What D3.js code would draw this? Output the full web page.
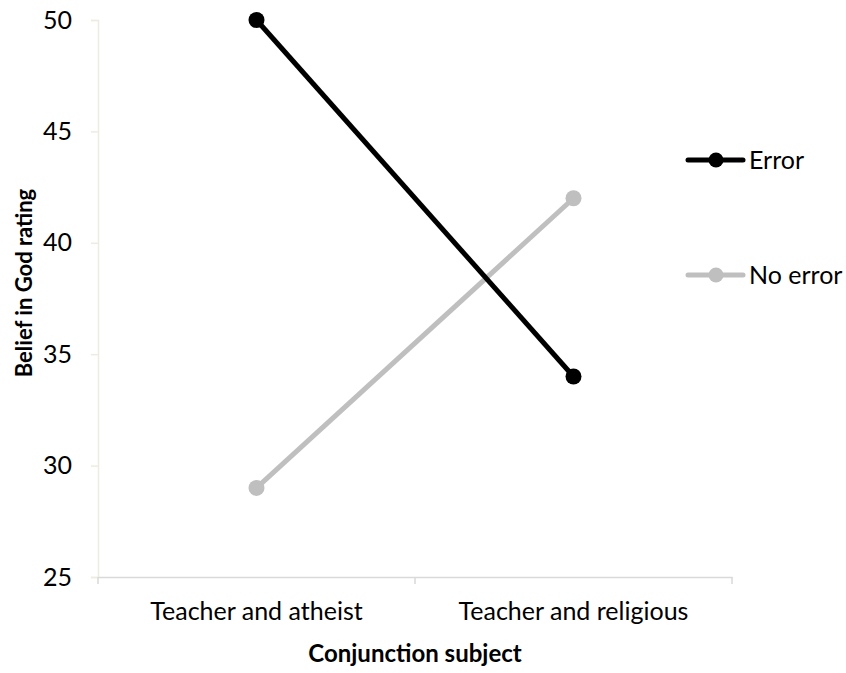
<!DOCTYPE html>
<html>
<head>
<meta charset="utf-8">
<script src="https://cdn.jsdelivr.net/npm/d3@7"></script>
<style>
  body { margin: 0; background: #fff; }
  svg text { font-family: Lato, "Open Sans", sans-serif; fill: #000; }
</style>
</head>
<body>
<svg id="chart"></svg>
<script>
// belief in god rating by conjunction subject, error vs no error

const categories = ["Teacher and atheist", "Teacher and religious"];
const seriesNames = ["Error", "No error"];
const errorValues = [50, 34];
const noErrorValues = [29, 42];
const yTicks = [25, 30, 35, 40, 45, 50];

const w = 846;
const h = 673;
const margin = {top: 20, left: 98, bottom: 96, right: 114};
const fontSize = 25;

const colors = {"Error": "#000000", "No error": "#bfbfbf"};

const series = [
    {name: seriesNames[0], values: errorValues},
    {name: seriesNames[1], values: noErrorValues}
];

const svg = d3.select("#chart")
    .attr("width", w)
    .attr("height", h);

// SCALES
const yScale = d3.scaleLinear()
    .domain([25, 50])
    .range([h - margin.bottom, margin.top]);

const xScale = d3.scaleBand()
    .domain(categories)
    .range([margin.left, w - margin.right])
    .padding(0);

// AXES
const yAxis = d3.axisLeft(yScale)
    .tickValues(yTicks)
    .tickSize(7)
    .tickPadding(19);

const yG = svg.append("g")
    .attr("class", "y axis")
    .attr("transform", `translate(${margin.left},0)`)
    .call(yAxis);

yG.select(".domain").attr("stroke", "#eeece1").attr("stroke-width", 1.5);
yG.selectAll(".tick line").attr("stroke", "#eeece1").attr("stroke-width", 1.5);
yG.selectAll(".tick text")
    .style("font-size", `${fontSize}px`)
    .attr("font-family", null);

const xAxis = d3.axisBottom(xScale)
    .tickSize(0)
    .tickPadding(25);

const xG = svg.append("g")
    .attr("class", "x axis")
    .attr("transform", `translate(0,${h - margin.bottom})`)
    .call(xAxis);

xG.select(".domain").attr("stroke", "#d9d9d9").attr("stroke-width", 1.5);
xG.selectAll(".tick line").remove();
xG.selectAll(".tick text")
    .style("font-size", `${fontSize}px`)
    .attr("font-family", null);

// x ticks sit at the band edges, not the centres
const edges = [xScale.range()[0], ...categories.map(c => xScale(c) + xScale.bandwidth())];
xG.selectAll(".edge")
    .data(edges)
    .join("line")
    .attr("class", "edge")
    .attr("x1", d => d)
    .attr("x2", d => d)
    .attr("y1", 0)
    .attr("y2", 7)
    .attr("stroke", "#d9d9d9")
    .attr("stroke-width", 1.5);

// AXIS TITLES
svg.append("text")
    .attr("x", margin.left + (w - margin.left - margin.right) / 2)
    .attr("y", 662)
    .attr("text-anchor", "middle")
    .style("font-size", "24px")
    .style("font-weight", "bold")
    .text("Conjunction subject");

svg.append("text")
    .attr("transform", `translate(32,283) rotate(-90)`)
    .attr("text-anchor", "middle")
    .style("font-size", "22px")
    .style("font-weight", "bold")
    .text("Belief in God rating");

// LINES
const line = d3.line()
    .x((d, i) => xScale(categories[i]) + xScale.bandwidth() / 2)
    .y(d => yScale(d));

// grey first so black draws over it where they cross
const drawOrder = [series[1], series[0]];

svg.selectAll(".series-line")
    .data(drawOrder)
    .join("path")
    .attr("class", "series-line")
    .attr("d", d => line(d.values))
    .attr("fill", "none")
    .attr("stroke", d => colors[d.name])
    .attr("stroke-width", 5);

drawOrder.forEach(s => {
    svg.selectAll(null)
        .data(s.values)
        .join("circle")
        .attr("cx", (d, i) => xScale(categories[i]) + xScale.bandwidth() / 2)
        .attr("cy", d => yScale(d))
        .attr("r", 8)
        .attr("fill", colors[s.name]);
});

// LEGEND
const legendY = [160, 275];
const legend = svg.selectAll(".legend")
    .data(series)
    .join("g")
    .attr("class", "legend")
    .attr("transform", (d, i) => `translate(688,${legendY[i]})`);

legend.append("line")
    .attr("x1", 0)
    .attr("x2", 55)
    .attr("stroke", d => colors[d.name])
    .attr("stroke-width", 5)
    .attr("stroke-linecap", "round");

legend.append("circle")
    .attr("cx", 28)
    .attr("r", 7.5)
    .attr("fill", d => colors[d.name]);

legend.append("text")
    .attr("x", 61)
    .attr("dy", "0.35em")
    .style("font-size", `${fontSize}px`)
    .text(d => d.name);
</script>
</body>
</html>
